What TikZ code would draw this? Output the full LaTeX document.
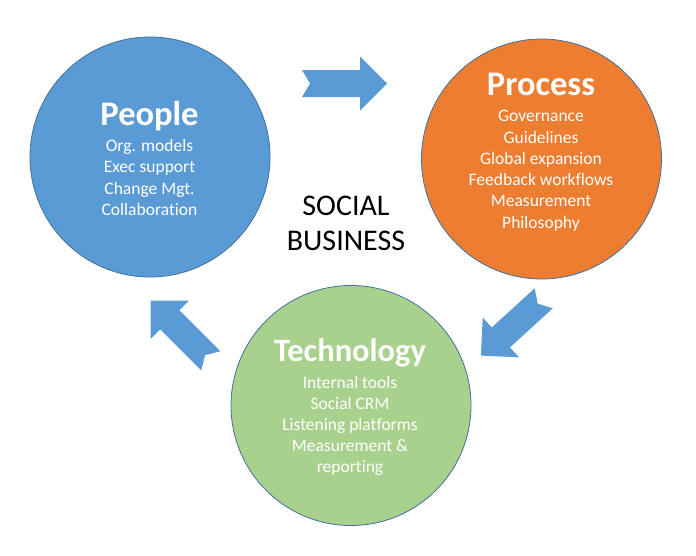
\documentclass[tikz,border=0pt]{standalone}
\usepackage{fontspec}
\setmainfont{Carlito}[Ligatures=CommonOff]
\definecolor{offblue}{HTML}{5B9BD5}
\definecolor{offorange}{HTML}{ED7D31}
\definecolor{offgreen}{HTML}{A9D18E}
\definecolor{outl}{HTML}{41719C}
\tikzset{
  bubble/.style={circle, draw=outl, line width=0.8pt, minimum size=240pt, inner sep=0pt},
  ttl/.style={anchor=base, text=white, inner sep=0pt, font=\fontsize{34.5}{40}\selectfont\bfseries},
  itm/.style={anchor=base, text=white, inner sep=0pt, font=\fontsize{17.5}{21}\selectfont},
  ctr/.style={anchor=base, text=black, inner sep=0pt, font=\fontsize{30}{35}\selectfont},
  blockarr/.pic={\fill[offblue] (0,13.5) -- (58,13.5) -- (58,27) -- (85,0) -- (58,-27) -- (58,-13.5) -- (0,-13.5) -- (8,0) -- cycle;}
}
\begin{document}
\begin{tikzpicture}[x=1pt,y=-1pt]
\useasboundingbox (0,0) rectangle (696,555);
% circles
\node[bubble, fill=offblue] (people) at (150,157) {};
\node[bubble, fill=offorange] (process) at (541.5,159) {};
\node[bubble, fill=offgreen] (tech) at (351,405.5) {};
% arrows
\pic at (302,83.5) {blockarr};
\pic[rotate=222.4] at (543.7,298.3) {blockarr};
\pic[rotate=135] at (210.8,360.8) {blockarr};
% titles
\node[ttl] (peopleT) at (149.5,125) {People};
\node[ttl] (processT) at (541,95) {Process};
\node[ttl, font=\fontsize{32.5}{38}\selectfont\bfseries] (techT) at (350,361.7) {Technology};
% items
\foreach \t [count=\i] in {Org. models, Exec support, Change Mgt., Collaboration}
  \node[itm] (pl\i) at (149.5,{151.7+21.2*(\i-1)}) {\t};
\foreach \t [count=\i] in {Governance, Guidelines, Global expansion, Feedback workflows, Measurement, Philosophy}
  \node[itm] (pr\i) at (541,{121.7+21.3*(\i-1)}) {\t};
\foreach \t [count=\i] in {Internal tools, Social CRM, Listening platforms, Measurement \&, reporting}
  \node[itm] (te\i) at (350,{388+21.2*(\i-1)}) {\t};
% centre
\node[ctr] (soc) at (346,215) {SOCIAL};
\node[ctr] (bus) at (346,250) {BUSINESS};
\end{tikzpicture}
\end{document}
